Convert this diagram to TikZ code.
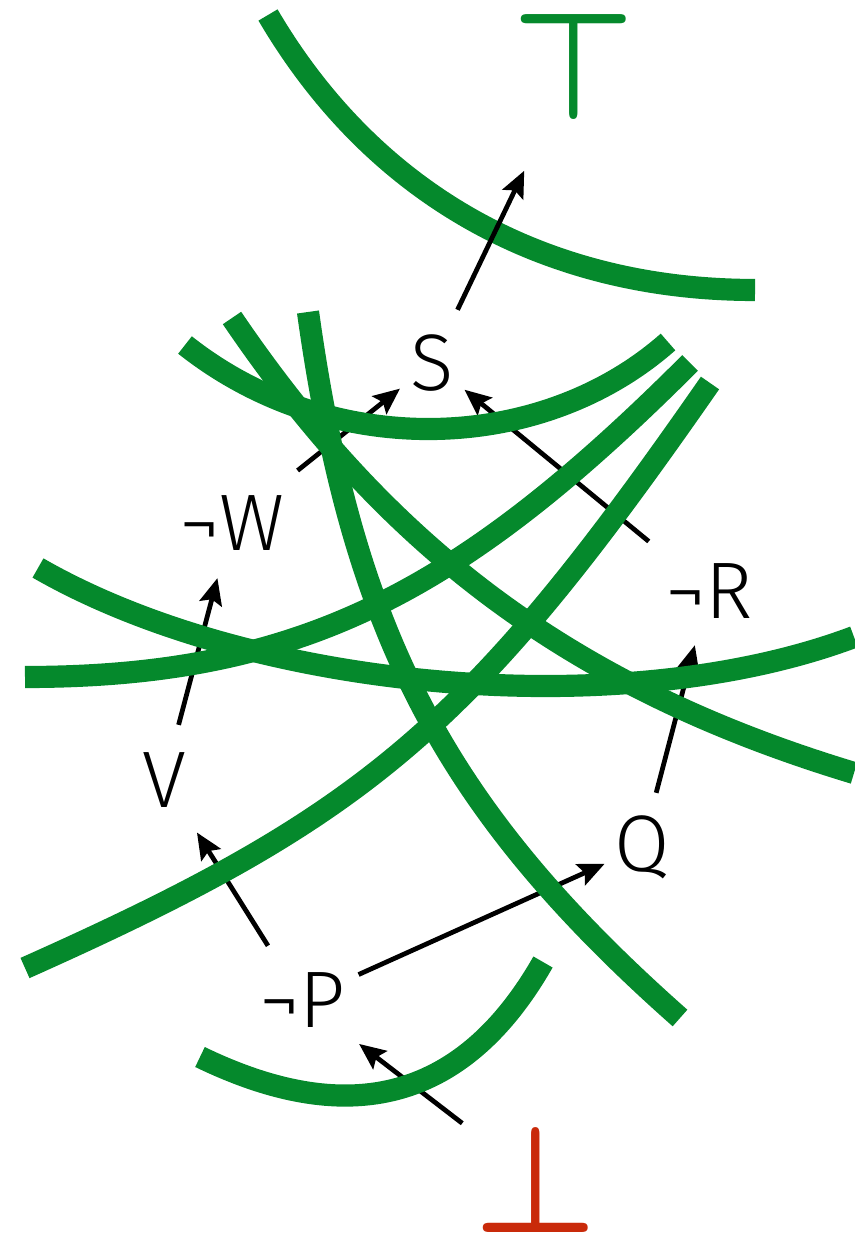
\documentclass[tikz,border=0pt]{standalone}
\usepackage{fontspec}
\setmainfont{Fira Sans Light}
\usetikzlibrary{arrows.meta}
\definecolor{stgreen}{HTML}{05892C}
\definecolor{stred}{HTML}{C92A0A}

\begin{document}
\begin{tikzpicture}[x=0.01cm, y=-0.01cm,
    strand/.style={draw=stgreen, line width=6.3pt},
    link/.style={-{Stealth[length=7.5pt, width=6.5pt, inset=1.3pt]}, line width=1.35pt},
    lit/.style={inner sep=0pt, font=\fontsize{22.8}{24}\selectfont},
    bound/.style={inner sep=0pt}]
  \useasboundingbox (0,0) rectangle (854,1234);
  % literals
  \node[lit] (S) at (432,363) {S};
  \node[lit] (nW) at (232,523) {¬W};
  \node[lit] (nR) at (709,591) {¬R};
  \node[lit] (V) at (164,780) {V};
  \node[lit] (Q) at (642,847) {Q};
  \node[lit] (nP) at (302,1000) {¬P};
  \node[bound, text=stgreen] (top) at (574,67) {\scalebox{3.9}[4.3]{\boldmath$\top$}};
  \node[bound, text=stred] (bot) at (536,1180) {\scalebox{3.9}[4.3]{\boldmath$\bot$}};
  % implications (under the clauses)
  \draw[link, shorten <=0.84cm, shorten >=0.41cm] (nW.center) -- (S.center);
  \draw[link, shorten <=0.78cm, shorten >=0.42cm] (nR.center) -- (S.center);
  \draw[link, shorten <=0.57cm, shorten >=0.57cm] (V.center) -- (nW.center);
  \draw[link, shorten <=0.56cm, shorten >=0.56cm] (Q.center) -- (nR.center);
  \draw[link, shorten <=0.64cm, shorten >=0.62cm] (nP.center) -- (V.center);
  \draw[link, shorten <=0.62cm, shorten >=0.41cm] (nP.center) -- (Q.center);
  \draw[link, shorten <=0.93cm, shorten >=0.72cm] (bot.center) -- (nP.center);
  % clauses
  \draw[strand] (268,15) .. controls (373,194) and (544,290) .. (755,290);
  \draw[strand] (185,345) .. controls (330,460) and (540,455) .. (668,342);
  \draw[strand] (232,318) .. controls (392,554) and (579,690) .. (854,773);
  \draw[strand] (308,312) .. controls (353,635) and (446,811) .. (680,1018);
  \draw[strand] (690,363) .. controls (460,593) and (300,677) .. (25,677);
  \draw[strand] (38,568) .. controls (250,690) and (620,725) .. (854,637);
  \draw[strand] (710,383) .. controls (471,727) and (368,815) .. (25,968);
  \draw[strand] (200,1057) .. controls (320,1115) and (450,1125) .. (543,962);
  % this one runs over its clause
  \draw[link, shorten <=0.59cm, shorten >=1.15cm] (S.center) -- (top.center);
\end{tikzpicture}
\end{document}
